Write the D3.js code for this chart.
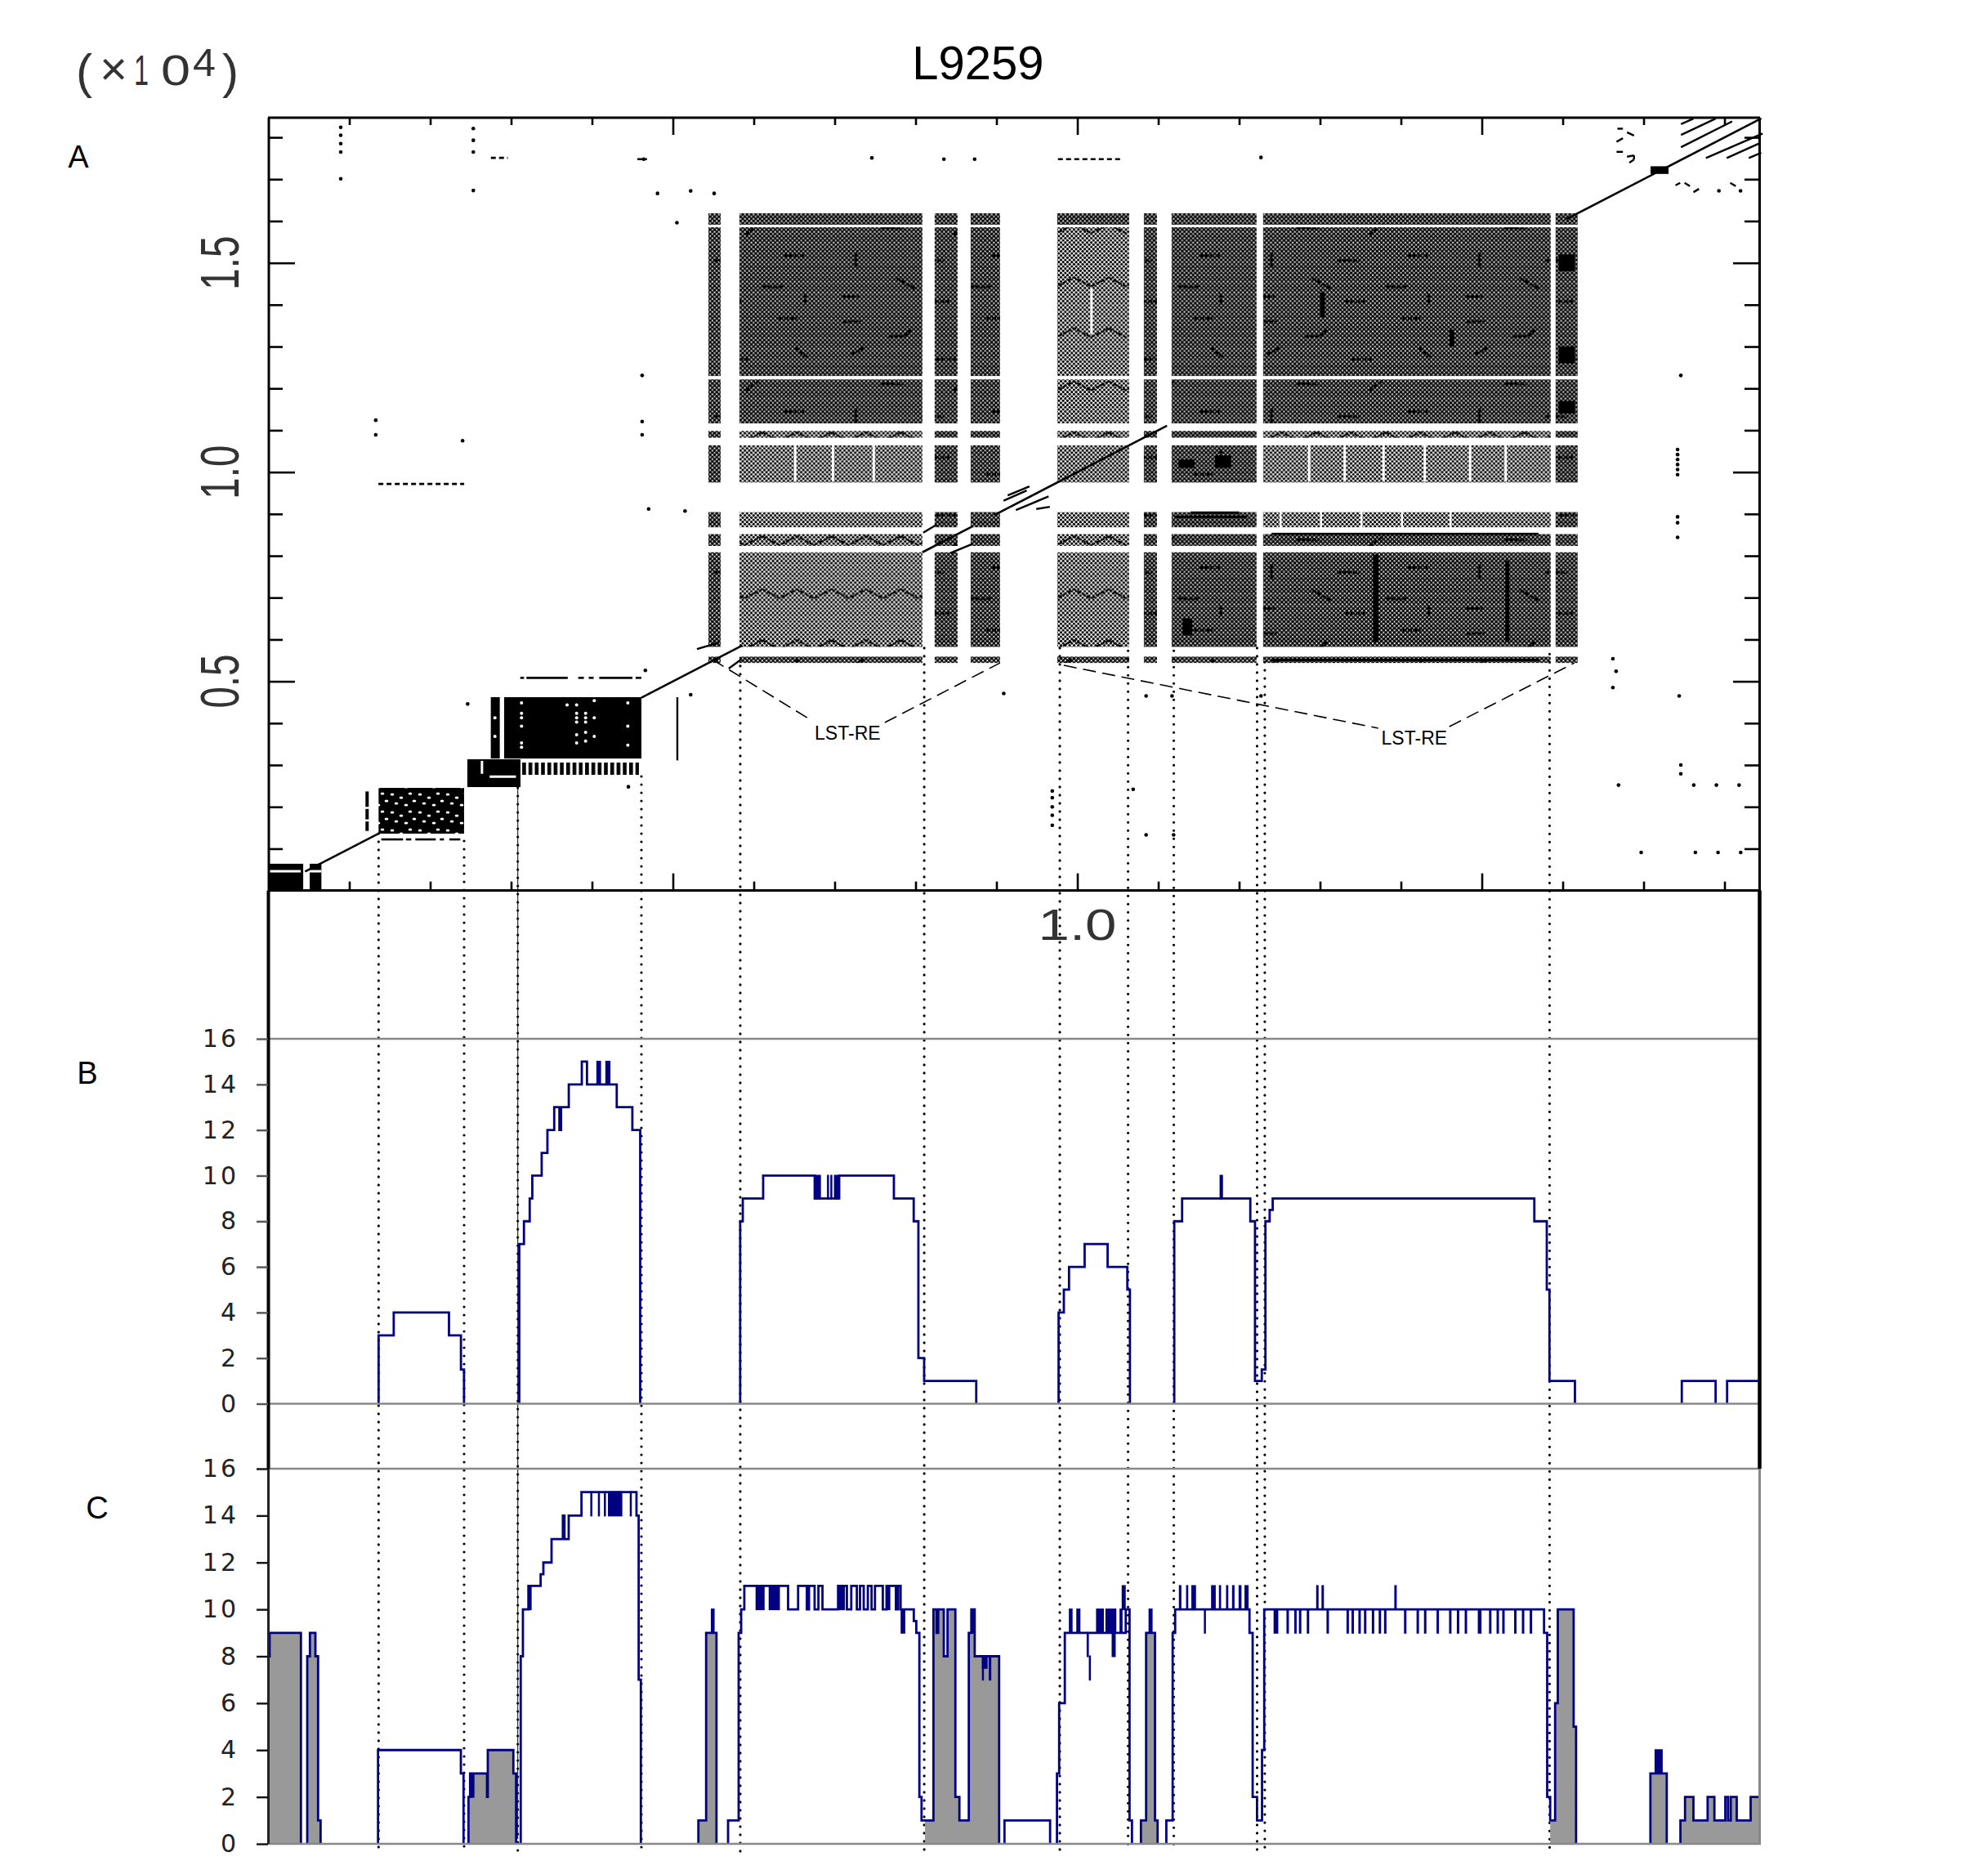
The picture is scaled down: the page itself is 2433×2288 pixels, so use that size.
<!DOCTYPE html>
<html><head><meta charset="utf-8">
<style>html,body{margin:0;padding:0;background:#fff}svg{display:block}</style>
<script src="https://cdn.jsdelivr.net/npm/d3@7/dist/d3.min.js"></script></head>
<body><div id="c"></div>
<script>
// ---- DATA (positions in bp along the 18.4 kb sequence) ----
const title = "L9259";
const panelLetters = ["A","B","C"];
const dotTickLabels = ["0.5","1.0","1.5"];
const countTicks = [0,2,4,6,8,10,12,14,16];
const seqLength = 18431;
const dotTopValue = 18470;
// LST-RE repeat ranges (same on both axes of the dot plot)
const repeatRanges = [[5439,5590],[5822,8084],[8236,8519],[8681,9044],[9751,10640],[10822,10984],[11165,12215],[12296,15851],[15912,16185]];
// tone of each cell: one row per y range (top to bottom), one entry per x range (1 = open weave, 2 = dense weave)
const repeatTones = [
 [2,2,2,2,2,2,2,2,2],
 [2,2,2,2,1,2,2,2,2],
 [2,2,2,2,1,2,2,2,2],
 [2,1,2,2,1,2,2,1,2],
 [2,1,2,2,1,2,2,1,2],
 [2,1,2,2,1,2,2,1,2],
 [2,1,2,2,1,2,2,2,2],
 [2,1,2,2,1,2,2,2,2],
 [2,2,2,2,2,2,2,2,2]];
const blackBlocks = [[0,430,0,640],[510,655,0,640],[2459,3116,2473,3137],[2914,4611,3155,4621],[2749,2860,3155,4621],[17086,17308,17126,17309]];
const speckBlocks = [[1362,2419,1360,2453]];
const combBlocks = [[3124,4581,2765,3059]];
const whiteStrokes = [[0,400,461,461],[510,655,461,461],[2640,2640,2790,3100],[2735,3060,2720,2720]];
const whiteSpecks = [[3129,4484],[3129,4236],[3129,4126],[3129,3930],[3129,3527],[3129,3423],[3692,4438],[3810,4438],[3810,4236],[3921,4236],[3810,4126],[3921,4126],[3810,4028],[3921,4028],[4028,4536],[4028,4126],[4028,3683],[3810,3722],[3921,3781],[3810,3527],[3921,3572],[4443,4484],[4443,3930],[4443,3475],[2800,4126],[2800,3683]];
const darkStreaks = [[13655,13725,5936,8028],[15290,15340,5936,7890],[13000,13060,13700,14300],[14600,14660,13000,13400],[11300,11420,6100,6500],[11250,11450,10100,10300],[11700,11900,10100,10400],[15950,16150,14800,15200],[15950,16150,12600,13000],[15950,16150,11400,11700],[11400,12000,9000,9060],[11200,12100,8900,8960],[12400,15700,8500,8550],[12400,15700,5480,5540]];
const whiteGaps = [[12850,12880,9775,10673],[13290,13320,9775,10673],[13770,13800,9775,10673],[14280,14310,9775,10673],[14840,14870,9775,10673],[15280,15310,9775,10673],[6497,6527,9775,10673],[6964,6994,9775,10673],[7468,7498,9775,10673],[12500,12525,8661,9072],[13000,13025,8661,9072],[13500,13525,8661,9072],[14000,14025,8661,9072],[14600,14625,8661,9072],[10160,10190,13300,14400]];
const diagonalSegments = [[453,1362],[4611,5860],[8084,8701],[8970,11108],[16050,18454]];
const parallelLines = [[8095,8553,8263,8748],[8432,8065,8701,8280],[9139,9445,9408,9660],[9240,9093,9644,9419],[9088,9315,9374,9562],[9492,9119,9660,9171],[5690,5304,5842,5519],[5297,5770,5570,5925],
 [17462,18318,17616,18448],[17462,18057,17890,18448],[17462,17764,18095,18383],[17770,17504,18471,18090],[18027,17504,18437,17862],[18300,17504,18454,17634],
 [16676,18207,16744,18207],[16795,18122,16881,18044],[16665,17895,16744,17979],[16665,17654,16744,17654],[16795,17537,16881,17569],[16881,17569,16881,17471],[16881,17471,16823,17393],
 [17394,16853,17452,16912],[17507,16912,17572,16834],[17616,16690,17685,16768],[18071,16912,18139,16834]];
const sparseDots = [[894,18240],[894,18050],[894,17850],[894,17650],[894,17010],[2533,18210],[2533,17930],[2533,17650],[2533,16730],[4640,17480],[4810,16660],[5220,16720],[5510,16660],[5050,15960],[4620,12310],[4620,11210],[4620,10890],[1327,11240],[1327,10890],[2400,10750],[4700,9120],[5150,9070],[4660,5260],[2463,4458],[5220,4680],[4450,2480],[8350,17480],[8730,17480],[12270,17520],[7460,17510],[17460,12310],[17420,10540],[17420,10420],[17420,10300],[17420,10180],[17420,10060],[17420,9940],[17420,8930],[17420,8790],[17420,8440],[16620,5540],[16660,5240],[16620,4850],[17440,4650],[17460,3000],[17460,2790],[16690,2520],[17620,2520],[17900,2520],[18180,2520],[16970,910],[17640,910],[17920,910],[18200,910],[9690,2380],[9690,2220],[9690,2000],[9690,1800],[9690,1560],[10690,2420],[10850,1330],[11190,1330],[9090,4710],[10850,4650],[11170,4650],[12270,4650],[17931,16723],[18198,16723]];
const sparseDashes = [[3113,3160,5083],[3190,3700,5083],[3830,3900,5083],[3960,4020,5083],[4090,4500,5083],[4540,4610,5083],[1395,1665,1222],[1700,1766,1222],[1816,2069,1222],[2119,2170,1222],[2237,2372,1222]];
const dottedDashes = [[2750,2960,17510],[4560,4680,17480],[9760,10530,17480],[1360,2420,9716]];
const sparseBars = [[5055,3110,4620],[1220,2000,2368],[1220,1700,1950],[1220,1424,1650]];
const dottedGuides = [[1362,1360],[2419,1184],[3083,2453],[4611,2727],[5833,5365],[8107,5794],[9783,5794],[10627,5730],[11192,5730],[12222,5794],[12317,5460],[15838,5650]];
const annotationLines = [[[5489,5520],[6691,4093]],[[7620,4015],[9044,5440]],[[9832,5382],[13720,3879]],[[14598,3918],[16144,5440]]];
const annotationLabels = [[7160,3614,"LST-RE"],[14165,3484,"LST-RE"]];

const seriesB = [
 [[1362,3],[1549,4],[2232,3],[2380,1.5],[2418,0]],
 [[3101,7],[3159,8],[3230,9],[3262,10],[3378,11],[3449,12],[3533,13],[3597,12],[3618,13],[3713,14],[3874,15],[3938,14],[4306,13],[4499,12],[4596,0]],
 [[5832,8],[5864,9],[6116,10],[6753,9],[7056,10],[7732,9],[7977,8],[8035,2],[8106,1],[8750,0]],
 [[9768,4],[9833,5],[9897,6],[10090,7],[10374,6],[10618,5],[10650,0]],
 [[11198,8],[11295,9],[12138,8],[12196,1],[12280,1.5],[12325,8],[12377,8.5],[12415,9],[15649,8],[15803,5],[15836,1],[16151,0]],
 [[17472,1],[17890,0]],
 [[18032,1],[18431,1]]];
const bandsB = [[4054,4112,14,15],[4165,4228,14,15],[6753,6830,9,10],[6905,6925,9,10],[6946,6962,9,10],[6991,7056,9,10],[11758,11800,9,10]];

const seriesC = [
 [[0,8],[15,9],[402,0]],
 [[480,8],[513,9],[581,8],[614,1],[645,0]],
 [[1355,4],[2379,3],[2412,0]],
 [[2473,2],[2493,3],[2702,2],[2712,4],[3028,3],[3062,0]],
 [[3119,8],[3146,10],[3214,11],[3365,11.5],[3399,12],[3500,13],[3640,14],[3660,13],[3712,14],[3870,15],[4550,14],[4577,7],[4604,0]],
 [[5315,1],[5411,9],[5539,0]],
 [[5682,1],[5813,9],[5844,10],[5883,11],[6424,10],[6548,11],[6656,10],[6683,11],[6752,10],[6799,11],[6849,10],[7042,11],[7151,10],[7205,11],[7274,10],[7313,11],[7359,10],[7410,11],[7456,10],[7498,11],[7595,10],[7641,11],[7757,10],[7784,11],[7815,10],[7978,9.5],[8009,9],[8047,2],[8074,1],[8221,10],[8260,9],[8280,10],[8349,8],[8395,10],[8492,2],[8542,1],[8658,9],[8689,10],[8731,8],[9033,0]],
 [[9099,1],[9663,0]],
 [[9748,3],[9775,6],[9845,9],[10598,10],[10645,1],[10675,0]],
 [[10786,1],[10850,9],[10960,1],[10992,0]],
 [[11100,1],[11178,9],[11209,10],[12128,9],[12167,2],[12221,1],[12283,4],[12310,10],[15769,9],[15808,2],[15845,1],[15906,6],[15939,10],[16135,5],[16165,0]],
 [[17084,3],[17286,0]],
 [[17455,1],[17512,2],[17616,1],[17791,2],[17875,1],[18010,2],[18044,1],[18077,2],[18151,1],[18323,2],[18431,2]]];
const grayRanges = [[0,402],[480,645],[2473,3062],[5315,5539],[8117,9033],[10786,10992],[15845,16165],[17084,17286],[17455,18431]];
const bandsC = [[2493,2547,2,3],[3214,3254,10,11],[3979,3997,14,15],[4073,4091,14,15],[4147,4165,14,15],[4197,4375,14,15],[4467,4485,14,15],
 [5469,5516,9,10],[6022,6134,10,11],[6184,6323,10,11],[7050,7127,10,11],[7641,7688,10,11],[7815,7873,9,10],[8689,8731,9,10],[8820,8890,7.5,8],[8820,8835,7,8],[8905,8936,7,8],
 [9895,9941,9,10],[9987,10038,9,10],[10231,10328,9,10],[10347,10482,9,10],[10521,10559,9,10],[10548,10598,10,11],[10115,10142,8,9],[10142,10157,7,8],[10424,10474,8,9],[10880,10930,9,10],
 [11255,11286,10,11],[11344,11371,10,11],[11409,11467,10,11],[11653,11711,10,11],[11750,11777,10,11],[11838,11866,10,11],[11912,11943,10,11],[11993,12029,10,11],[12066,12117,10,11],[11564,11587,9,10],
 [12426,12484,9,10],[12585,12615,9,10],[12681,12711,9,10],[12739,12769,9,10],[12836,12866,9,10],[13080,13110,9,10],[13327,13357,9,10],[13389,13419,9,10],[13474,13504,9,10],[13543,13573,9,10],[13640,13670,9,10],[13725,13755,9,10],[13791,13821,9,10],[14038,14068,9,10],[14193,14223,9,10],[14285,14315,9,10],[14440,14470,9,10],[14595,14625,9,10],[14691,14721,9,10],[14788,14818,9,10],[14950,14996,9,10],[15089,15119,9,10],[15182,15212,9,10],[15252,15282,9,10],[15399,15429,9,10],[15495,15525,9,10],[15592,15622,9,10],
 [12952,12982,10,11],[13018,13048,10,11],[13918,13948,10,11],[17135,17236,3,4]];

// ---- DRAWING ----
const W=2433,H=2288;
const svg=d3.select("#c").append("svg").attr("width",W).attr("height",H).attr("viewBox",[0,0,W,H]);
svg.append("rect").attr("width",W).attr("height",H).attr("fill","#fff");
const x=d3.scaleLinear([0,seqLength],[328.5,2153.2]);
const yD=d3.scaleLinear([0,dotTopValue],[1089.6,144]);
const yB=d3.scaleLinear([0,16],[1717.5,1271]);
const yC=d3.scaleLinear([0,16],[2256,1797]);
const defs=svg.append("defs");
const SANS="'Liberation Sans',Arial,sans-serif", WIDE="'DejaVu Sans',sans-serif";

// grain textures: a staggered lattice of dots with a few broken strokes, which reads like the dot plot's matches
function grain(id,nx,ny,opt){
  const c=5.3, w=nx*c, h=ny*c;
  const p=defs.append("pattern").attr("id",id).attr("patternUnits","userSpaceOnUse").attr("width",w).attr("height",h);
  p.append("rect").attr("width",w).attr("height",h).attr("fill","#fff");
  const g=p.append("g").attr("fill","#000");
  for(let i=0;i<=nx;i++)for(let j=0;j<=ny;j++){
    g.append("circle").attr("cx",i*c).attr("cy",j*c).attr("r",opt.r);
    g.append("circle").attr("cx",(i+.5)*c).attr("cy",(j+.5)*c).attr("r",opt.r);
  }
  (opt.strokes||[]).forEach(s=>p.append("path").attr("d",d3.line()(s)).attr("fill","none").attr("stroke","#000").attr("stroke-width",opt.sw).attr("stroke-dasharray","5 1.5"));
}
grain("w1",32,24,{r:1.6,sw:2.2,strokes:[
 [[0,20],[21,31],[42,20],[63,31],[85,20]],[[85,20],[106,31],[127,20],[148,31],[170,20]],
 [[0,85],[21,96],[42,85],[63,96],[85,85]],[[85,85],[106,96],[127,85],[148,96],[170,85]]]});
grain("w2",48,36,{r:1.85,sw:3.2,strokes:[
 [[14,12],[36,12]],[[70,30],[88,30],[98,22]],[[190,8],[212,8]],[[24,52],[42,43]],[[128,58],[152,58]],[[210,44],[226,56]],
 [[60,88],[88,88]],[[150,96],[166,84]],[[30,118],[30,136]],[[110,128],[138,128]],[[196,122],[222,122]],[[80,150],[102,162]],
 [[170,160],[196,160]],[[12,172],[34,172]],[[120,178],[144,178]],[[222,168],[222,182]]]});
const sp=defs.append("pattern").attr("id","speck").attr("patternUnits","userSpaceOnUse").attr("width",34).attr("height",22);
sp.append("rect").attr("width",34).attr("height",22).attr("fill","#000");
[[4,4],[15,8],[26,3],[9,15],[21,17],[31,12]].forEach(d=>sp.append("ellipse").attr("cx",d[0]).attr("cy",d[1]).attr("rx",2.4).attr("ry",1.6).attr("fill","#fff"));
const cb=defs.append("pattern").attr("id","comb").attr("patternUnits","userSpaceOnUse").attr("width",7.7).attr("height",20);
cb.append("rect").attr("width",4.6).attr("height",20).attr("fill","#000");

// PANEL A
const gA=svg.append("g");
const rectIn=(g,arr,fill)=>g.selectAll(null).data(arr).join("rect")
  .attr("x",d=>x(d[0])).attr("width",d=>x(d[1])-x(d[0])).attr("y",d=>yD(d[3])).attr("height",d=>yD(d[2])-yD(d[3])).attr("fill",fill);
const cells=[];
repeatRanges.forEach((rx,i)=>repeatRanges.forEach((ry,j)=>cells.push({rx,ry,t:repeatTones[8-j][i]})));
gA.selectAll("rect.cell").data(cells).join("rect").attr("class","cell")
  .attr("x",d=>x(d.rx[0])).attr("width",d=>x(d.rx[1])-x(d.rx[0]))
  .attr("y",d=>yD(d.ry[1])).attr("height",d=>yD(d.ry[0])-yD(d.ry[1]))
  .attr("fill",d=>d.t===1?"url(#w1)":"url(#w2)");
rectIn(gA,darkStreaks,"#000");
rectIn(gA,whiteGaps,"#fff");
rectIn(gA,blackBlocks,"#000");
rectIn(gA,speckBlocks,"url(#speck)");
rectIn(gA,combBlocks,"url(#comb)");
gA.selectAll("line.w").data(whiteStrokes).join("line").attr("x1",d=>x(d[0])).attr("x2",d=>x(d[1])).attr("y1",d=>yD(d[2])).attr("y2",d=>yD(d[3])).attr("stroke","#fff").attr("stroke-width",3);
gA.selectAll("circle.w").data(whiteSpecks).join("circle").attr("cx",d=>x(d[0])).attr("cy",d=>yD(d[1])).attr("r",2).attr("fill","#fff");
gA.selectAll("line.diag").data(diagonalSegments).join("line").attr("x1",d=>x(d[0])).attr("y1",d=>yD(d[0])).attr("x2",d=>x(d[1])).attr("y2",d=>yD(d[1])).attr("stroke","#000").attr("stroke-width",2.6);
gA.selectAll("line.p").data(parallelLines).join("line").attr("x1",d=>x(d[0])).attr("y1",d=>yD(d[1])).attr("x2",d=>x(d[2])).attr("y2",d=>yD(d[3])).attr("stroke","#000").attr("stroke-width",2.4);
gA.selectAll("circle.s").data(sparseDots).join("circle").attr("cx",d=>x(d[0])).attr("cy",d=>yD(d[1])).attr("r",2.3).attr("fill","#000");
gA.selectAll("line.d").data(sparseDashes).join("line").attr("x1",d=>x(d[0])).attr("x2",d=>x(d[1])).attr("y1",d=>yD(d[2])).attr("y2",d=>yD(d[2])).attr("stroke","#000").attr("stroke-width",2.6);
gA.selectAll("line.dd").data(dottedDashes).join("line").attr("x1",d=>x(d[0])).attr("x2",d=>x(d[1])).attr("y1",d=>yD(d[2])).attr("y2",d=>yD(d[2])).attr("stroke","#000").attr("stroke-width",2.6).attr("stroke-dasharray","6 4");
gA.selectAll("line.b").data(sparseBars).join("line").attr("x1",d=>x(d[0])).attr("x2",d=>x(d[0])).attr("y1",d=>yD(d[1])).attr("y2",d=>yD(d[2])).attr("stroke","#000").attr("stroke-width",d=>d[0]===1220?4:2.4);

// guides
const gG=svg.append("g");
gG.selectAll("line").data(dottedGuides).join("line").attr("x1",d=>x(d[0])).attr("x2",d=>x(d[0])).attr("y1",d=>yD(d[1])).attr("y2",2266)
  .attr("stroke","#000").attr("stroke-width",3.2).attr("stroke-linecap","round").attr("stroke-dasharray","0 10");
gG.append("line").attr("x1",x(dottedGuides[2][0])).attr("x2",x(dottedGuides[2][0])).attr("y1",yD(dottedGuides[2][1])).attr("y2",2250).attr("stroke","#000").attr("stroke-width",1);

// annotations
gA.selectAll("line.a").data(annotationLines).join("line").attr("x1",d=>x(d[0][0])).attr("y1",d=>yD(d[0][1])).attr("x2",d=>x(d[1][0])).attr("y2",d=>yD(d[1][1])).attr("stroke","#000").attr("stroke-width",1.6).attr("stroke-dasharray","16 8");
gA.selectAll("text.a").data(annotationLabels).join("text").attr("x",d=>x(d[0])).attr("y",d=>yD(d[1])).attr("text-anchor","middle").attr("font-family",SANS).attr("font-size",23).attr("fill","#000").text(d=>d[2]);

// dot plot ticks
const minor=d3.range(1000,18001,1000).filter(v=>v%5000), major=[5000,10000,15000];
function ticks(axisGen,scale,vals,size,tx){
  svg.append("g").attr("transform",tx).call(axisGen(scale).tickValues(vals).tickSize(size).tickFormat(""))
    .call(g=>{g.select(".domain").remove();g.selectAll("line").attr("stroke","#000").attr("stroke-width",2.6);});
}
ticks(d3.axisBottom,x,minor,9,"translate(0,144)");ticks(d3.axisBottom,x,major,21,"translate(0,144)");
ticks(d3.axisTop,x,minor,11,"translate(0,1089.6)");ticks(d3.axisTop,x,major,21,"translate(0,1089.6)");
ticks(d3.axisRight,yD,minor,17,"translate(329,0)");ticks(d3.axisRight,yD,major,32,"translate(329,0)");
ticks(d3.axisLeft,yD,minor,18,"translate(2153,0)");ticks(d3.axisLeft,yD,major,32,"translate(2153,0)");

// panels B and C
const line=s=>d3.line().x(d=>x(d[0])).y(d=>s(d[1])).curve(d3.curveStepAfter);
const area=s=>d3.area().x(d=>x(d[0])).y1(d=>s(d[1])).y0(s(0)).curve(d3.curveStepAfter);
const NAVY="#000080";
const withStart=a=>[[a[0][0],0],...a];
defs.append("clipPath").attr("id","grayClip").selectAll("rect").data(grayRanges).join("rect")
  .attr("x",d=>x(d[0])).attr("width",d=>x(d[1])-x(d[0])).attr("y",1700).attr("height",600);
const gC=svg.append("g");
gC.append("g").attr("clip-path","url(#grayClip)").selectAll("path").data(seriesC).join("path").attr("d",d=>area(yC)(d)).attr("fill","#999");
function panel(g,series,bands,s){
  g.append("g").selectAll("path").data(series).join("path").attr("d",d=>line(s)(withStart(d))).attr("fill","none").attr("stroke",NAVY).attr("stroke-width",2.8);
  g.append("g").selectAll("rect").data(bands).join("rect").attr("x",d=>x(d[0])).attr("width",d=>Math.max(2.5,x(d[1])-x(d[0]))).attr("y",d=>s(d[3])-1).attr("height",d=>s(d[2])-s(d[3])+2).attr("fill",NAVY);
}
panel(svg.append("g"),seriesB,bandsB,yB);
panel(gC,seriesC,bandsC,yC);

// base / top rules
[[yB(16)],[yB(0)],[yC(16)],[yC(0)]].forEach(d=>svg.append("line").attr("x1",328).attr("x2",2155).attr("y1",d[0]).attr("y2",d[0]).attr("stroke","#888").attr("stroke-width",2.4));

// frames
const frame=(x1,y1,x2,y2,c,w)=>svg.append("line").attr("x1",x1).attr("y1",y1).attr("x2",x2).attr("y2",y2).attr("stroke",c).attr("stroke-width",w);
frame(328,144,2154,144,"#000",3);frame(328,1089.6,2155,1089.6,"#000",3);
frame(329,144,329,1089.6,"#000",3);frame(2153.5,144,2153.5,1089.6,"#000",3);
frame(328.5,1089.6,328.5,1797,"#000",4);frame(2153.5,1089.6,2153.5,1797,"#000",4.5);
frame(328.5,1797,328.5,2256,"#222",3);frame(2153.5,1797,2153.5,2256,"#888",3);

// count axes
[[yB,"#555"],[yC,"#111"]].forEach(([s,c])=>{
  svg.append("g").attr("transform","translate(328,0)").call(d3.axisLeft(s).tickValues(countTicks).tickSize(14).tickPadding(22))
   .call(g=>{g.select(".domain").remove();g.selectAll("line").attr("stroke",c).attr("stroke-width",2.4);
     g.selectAll("text").attr("font-family",WIDE).attr("font-size",30).attr("letter-spacing",3).attr("fill","#222").attr("font-weight",400);});
});

// texts
svg.append("text").attr("x",1197).attr("y",97).attr("text-anchor","middle").attr("font-family",SANS).attr("font-size",58).attr("fill","#000").text(title);
[[96,205],[107,1326],[119,1858]].forEach((p,i)=>svg.append("text").attr("x",p[0]).attr("y",p[1]).attr("text-anchor","middle").attr("font-family",SANS).attr("font-size",38).attr("fill","#000").text(panelLetters[i]));
[5000,10000,15000].forEach((v,i)=>svg.append("text").attr("transform",`translate(292,${yD(v)}) rotate(-90)`).attr("text-anchor","middle")
  .attr("font-family",SANS).attr("font-size",67).attr("textLength",66).attr("lengthAdjust","spacingAndGlyphs").attr("fill","#333").text(dotTickLabels[i]));
svg.append("text").attr("x",x(10000)).attr("y",1150).attr("text-anchor","middle").attr("font-family",SANS).attr("font-size",54).attr("textLength",96).attr("lengthAdjust","spacingAndGlyphs").attr("fill","#333").text(dotTickLabels[1]);
const pre=(t,px,py,fs,len)=>svg.append("text").attr("x",px).attr("y",py).attr("font-family",SANS).attr("font-size",fs).attr("textLength",len).attr("lengthAdjust","spacingAndGlyphs").attr("fill","#333").text(t);
pre("(",93,108,60,20);pre("×",122,104,58,34);pre("1",164,104,52,18);pre("0",197,104,52,36);pre("4",236,93,48,28);pre(")",272,108,60,20);
</script></body></html>
